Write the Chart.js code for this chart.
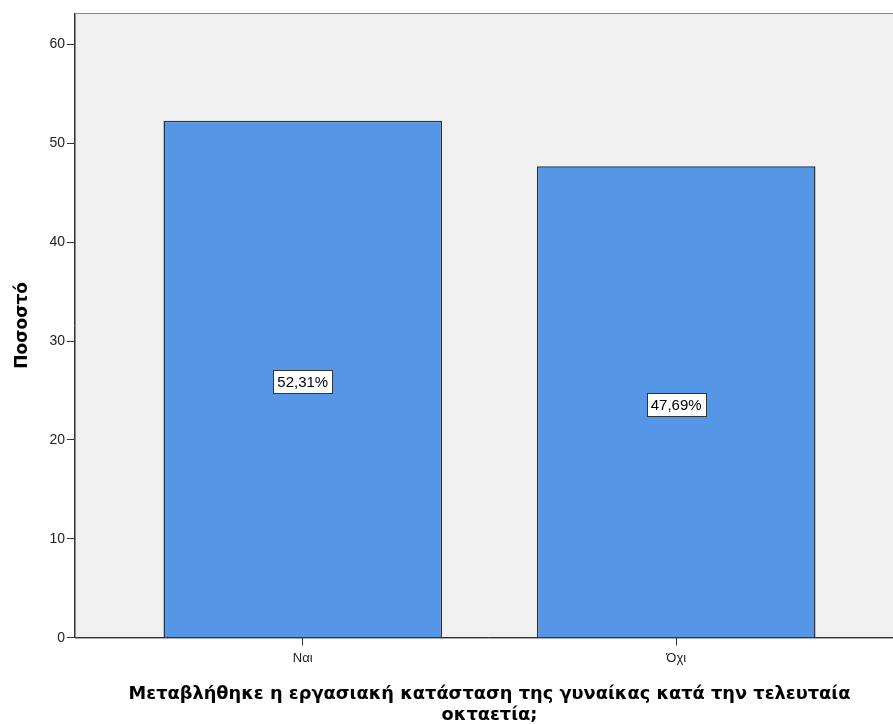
<!DOCTYPE html>
<html>
<head>
<meta charset="utf-8">
<script src="https://cdn.jsdelivr.net/npm/chart.js@4"></script>
<style>
  html, body { margin: 0; padding: 0; background: #fff; overflow: hidden; }
  #wrap { width: 912px; height: 726px; position: relative; }
</style>
</head>
<body>
<div id="wrap"><canvas id="chart"></canvas></div>
<script>
const categories = ['Ναι', 'Όχι'];
const percentages = [52.31, 47.69];
const valueLabels = ['52,31%', '47,69%'];
const yTicks = [0, 10, 20, 30, 40, 50, 60];
const xTitle = ['Μεταβλήθηκε η εργασιακή κατάσταση της γυναίκας κατά την τελευταία', 'οκταετία;'];
const yTitle = 'Ποσοστό';

const plotBackground = {
    id: 'plotBackground',
    beforeDraw(chart) {
        const { ctx, chartArea: a } = chart;
        ctx.save();
        ctx.fillStyle = '#f0f0f0';
        ctx.fillRect(a.left, a.top, a.right - a.left, a.bottom - a.top);
        ctx.strokeStyle = '#888';
        ctx.lineWidth = 1;
        ctx.strokeRect(a.left + 0.5, a.top + 0.5, a.right - a.left, a.bottom - a.top);
        ctx.restore();
    }
};

const boxLabels = {
    id: 'boxLabels',
    afterDatasetsDraw(chart) {
        const { ctx } = chart;
        const meta = chart.getDatasetMeta(0);
        ctx.save();
        ctx.font = '15px "Liberation Sans", Arial, sans-serif';
        ctx.textAlign = 'center';
        ctx.textBaseline = 'middle';
        meta.data.forEach((bar, i) => {
            const cy = (bar.y + bar.base) / 2 + 3;
            const text = valueLabels[i];
            const w = Math.round(ctx.measureText(text).width + 8);
            const h = 23;
            const x0 = Math.round(bar.x - w / 2);
            const y0 = Math.round(cy - h / 2);
            ctx.fillStyle = '#fff';
            ctx.fillRect(x0, y0, w, h);
            ctx.strokeStyle = '#333';
            ctx.lineWidth = 1;
            ctx.strokeRect(x0 + 0.5, y0 + 0.5, w, h);
            ctx.fillStyle = '#000';
            ctx.fillText(text, bar.x, cy + 1);
        });
        ctx.restore();
    }
};

new Chart(document.getElementById('chart'), {
    type: 'bar',
    data: {
        datasets: [{
            data: percentages.map((v, i) => ({ x: i, y: v })),
            backgroundColor: '#5596e6',
            borderColor: '#263444',
            borderWidth: 1.5,
            barPercentage: 0.746,
            categoryPercentage: 1
        }]
    },
    options: {
        responsive: true,
        maintainAspectRatio: false,
        animation: false,
        layout: { padding: { left: 12, right: 8, top: 13, bottom: 0 } },
        plugins: { legend: { display: false }, tooltip: { enabled: false } },
        scales: {
            x: {
                type: 'linear',
                offset: false,
                min: -0.61,
                max: 1.61,
                afterBuildTicks: scale => { scale.ticks = categories.map((c, i) => ({ value: i })); },
                ticks: {
                    callback: v => categories[v],
                    color: '#222',
                    font: { family: '"Liberation Sans", Arial, sans-serif', size: 13 },
                    padding: 5,
                    maxRotation: 0
                },
                grid: { offset: false, drawOnChartArea: false, drawTicks: true, tickLength: 8, color: '#333' },
                border: { display: true, color: '#333' },
                title: {
                    display: true,
                    text: xTitle,
                    color: '#000',
                    font: { family: '"DejaVu Sans", Tahoma, sans-serif', size: 17.8, weight: 'bold', lineHeight: 1.2 },
                    padding: { top: 12, bottom: 0 }
                }
            },
            y: {
                min: 0,
                max: 63.2,
                afterBuildTicks: scale => { scale.ticks = yTicks.map(v => ({ value: v })); },
                ticks: {
                    color: '#222',
                    font: { family: '"Liberation Sans", Arial, sans-serif', size: 14 },
                    padding: 2
                },
                grid: { drawOnChartArea: false, drawTicks: true, tickLength: 8, color: '#333' },
                border: { display: true, color: '#333' },
                title: {
                    display: true,
                    text: yTitle,
                    color: '#000',
                    font: { family: '"DejaVu Sans", Tahoma, sans-serif', size: 17, weight: 'bold' },
                    padding: { top: 0, bottom: 15 }
                }
            }
        }
    },
    plugins: [plotBackground, boxLabels]
});
</script>
</body>
</html>
